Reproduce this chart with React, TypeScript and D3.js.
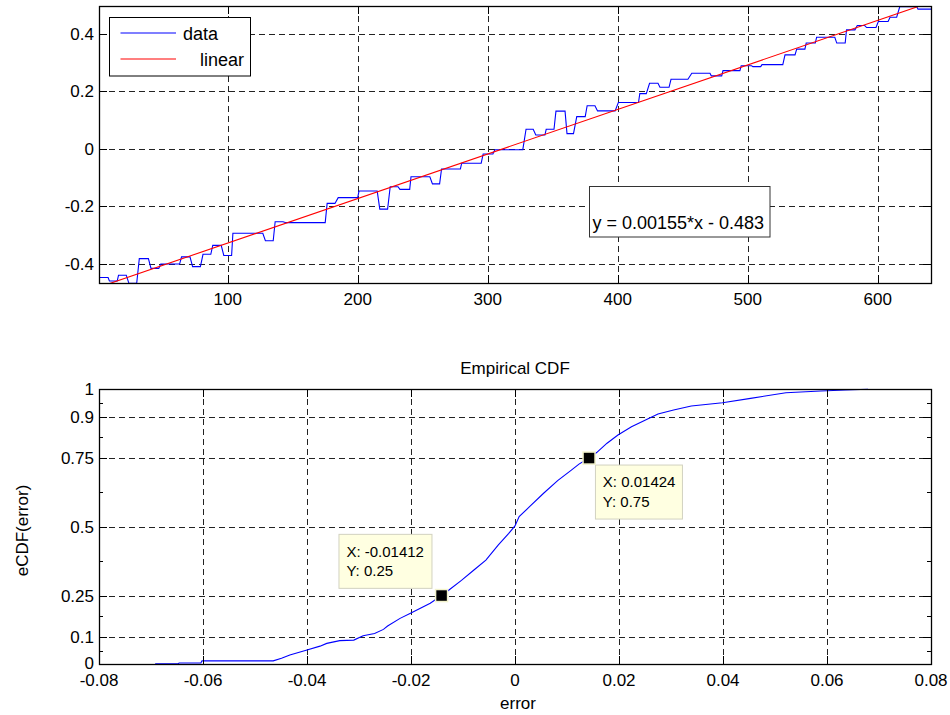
import React from "react";
import * as d3 from "d3";

// ---------- top panel data ----------
const topXDomain = [1, 641];
const topYDomain = [-0.468, 0.497];
const topXTicks = [100, 200, 300, 400, 500, 600];
const topXTickLabels = ["100", "200", "300", "400", "500", "600"];
const topYTicks = [-0.4, -0.2, 0, 0.2, 0.4];
const topYTickLabels = ["-0.4", "-0.2", "0", "0.2", "0.4"];

const dataX = [
  1, 8, 9, 15, 16, 22, 24, 30, 32, 39, 41, 47, 48.5, 63, 64.5, 71, 73, 79, 81, 87,
  88.5, 95, 97, 103, 104, 127, 129, 135, 136.5, 142.5, 145, 175, 176.5, 182.5, 185, 200,
  201, 215, 217, 223, 225, 231, 232.5, 240, 241, 255.5, 257.5, 263, 264.5, 279, 280, 295,
  296.5, 304, 305.5, 327, 329.5, 335, 337, 344, 345, 351, 352.5, 359.5, 361, 366, 368.5, 375,
  376.5, 382.5, 384.5, 398, 400.5, 416, 417, 422, 424.5, 431, 432.5, 439.5, 441, 454,
  457, 471, 472, 480, 481, 494, 495, 503, 504, 510, 511, 527, 528.7, 536.4, 537.7, 544,
  545, 552, 553, 567, 568.5, 575, 576, 582.5, 584.3, 590, 591.5, 598.7, 600.5, 608,
  609.5, 614.6, 617, 630, 631, 641,
];
const dataY = [
  -0.448, -0.448, -0.46, -0.46, -0.44, -0.44, -0.468, -0.468, -0.382, -0.382, -0.416, -0.416, -0.401, -0.401, -0.376, -0.376, -0.41, -0.41, -0.367, -0.367,
  -0.336, -0.336, -0.371, -0.371, -0.294, -0.294, -0.32, -0.32, -0.254, -0.254, -0.257, -0.257, -0.19, -0.19, -0.17, -0.17,
  -0.147, -0.147, -0.21, -0.21, -0.132, -0.132, -0.141, -0.141, -0.097, -0.097, -0.122, -0.122, -0.07, -0.07, -0.05, -0.05,
  -0.018, -0.018, -0.003, -0.003, 0.068, 0.068, 0.048, 0.048, 0.068, 0.068, 0.131, 0.131, 0.053, 0.053, 0.112, 0.112,
  0.15, 0.15, 0.132, 0.132, 0.161, 0.161, 0.192, 0.192, 0.228, 0.228, 0.214, 0.214, 0.242, 0.242,
  0.263, 0.263, 0.254, 0.254, 0.272, 0.272, 0.289, 0.289, 0.286, 0.286, 0.293, 0.293, 0.327, 0.327, 0.347, 0.347,
  0.368, 0.368, 0.388, 0.388, 0.368, 0.368, 0.414, 0.414, 0.429, 0.429, 0.422, 0.422, 0.443, 0.443,
  0.458, 0.458, 0.495, 0.495, 0.486, 0.486,
];
const fitSlope = 0.00155;
const fitIntercept = -0.483;
const fitLabel = "y = 0.00155*x - 0.483";
const legendLabels = ["data", "linear"];

// ---------- bottom panel data ----------
const cdfXDomain = [-0.08, 0.08];
const cdfYDomain = [0, 1];
const cdfXTicks = [-0.08, -0.06, -0.04, -0.02, 0, 0.02, 0.04, 0.06, 0.08];
const cdfXTickLabels = ["-0.08", "-0.06", "-0.04", "-0.02", "0", "0.02", "0.04", "0.06", "0.08"];
const cdfYTicks = [0, 0.1, 0.25, 0.5, 0.75, 0.9, 1];
const cdfYTickLabels = ["0", "0.1", "0.25", "0.5", "0.75", "0.9", "1"];
const cdfYMinor = [0.05, 0.175, 0.375, 0.625, 0.825, 0.95];

const cdfX = [
  -0.0692, -0.0648, -0.0646, -0.0604, -0.0602, -0.0465, -0.0449, -0.0433, -0.04, -0.0375,
  -0.0362, -0.0337, -0.031, -0.0292, -0.027, -0.0253, -0.0245, -0.0221, -0.0201, -0.0163,
  -0.01412, -0.0127, -0.0103, -0.0079, -0.0056, -0.0032, -0.0012, 0.0, 0.0008, 0.0028,
  0.0055, 0.0082, 0.0109, 0.0123, 0.01424, 0.0157, 0.0177, 0.0198, 0.0224, 0.0258,
  0.0275, 0.0305, 0.0339, 0.0399, 0.0453, 0.0521, 0.0588, 0.0636, 0.0679,
];
const cdfY = [
  0.0016, 0.0016, 0.0047, 0.0047, 0.0125, 0.0125, 0.022, 0.034, 0.052, 0.066,
  0.076, 0.086, 0.088, 0.104, 0.112, 0.127, 0.139, 0.167, 0.186, 0.222,
  0.25, 0.27, 0.305, 0.343, 0.379, 0.434, 0.476, 0.503, 0.537, 0.573,
  0.622, 0.668, 0.707, 0.728, 0.75, 0.77, 0.804, 0.834, 0.864, 0.8945,
  0.91, 0.925, 0.939, 0.951, 0.967, 0.9876, 0.994, 0.9975, 1.0,
];
const tipX = [-0.01412, 0.01424];
const tipY = [0.25, 0.75];
const tipLines = [
  ["X: -0.01412", "Y: 0.25"],
  ["X: 0.01424", "Y: 0.75"],
];
const cdfTitle = "Empirical CDF";
const cdfXLabel = "error";
const cdfYLabel = "eCDF(error)";

const FONT = "'Liberation Sans', Arial, Helvetica, sans-serif";
const GRID = "#222";
const DASH = "6,4";
const c = (v: number) => Math.round(v) + 0.5;

export default function App() {
  const L = 99, R = 931;
  const xT = d3.scaleLinear().domain(topXDomain).range([L, R]);
  const yT = d3.scaleLinear().domain(topYDomain).range([283.3, 6]);
  const tTop = 6, tBot = 283;
  const xB = d3.scaleLinear().domain(cdfXDomain).range([L, R]);
  const yB = d3.scaleLinear().domain(cdfYDomain).range([664.3, 389.3]);
  const bTop = 389, bBot = 664;

  const dataPts = dataX.map((x, i) => [x, dataY[i]] as [number, number]);
  const dataPath = d3.line<[number, number]>().x((d) => xT(d[0])).y((d) => yT(d[1]))(dataPts) || "";
  const fitPts: [number, number][] = topXDomain.map((x) => [x, fitSlope * x + fitIntercept]);
  const fitPath = d3.line<[number, number]>().x((d) => xT(d[0])).y((d) => yT(d[1]))(fitPts) || "";

  const cdfPts = cdfX.map((x, i) => [x, cdfY[i]] as [number, number]);
  const cdfPath = d3.line<[number, number]>().x((d) => xB(d[0])).y((d) => yB(d[1]))(cdfPts) || "";

  const tick = 8;
  const minor = 4;

  const tipW = [93, 87];
  const tipH = 54;
  const tips = tipX.map((x, i) => {
    const mx = xB(x), my = yB(tipY[i]);
    const bx = i === 0 ? mx - 9.6 - tipW[i] : mx + 6.4;
    const by = i === 0 ? my - 7.2 - tipH : my + 7;
    return { mx, my, bx, by, w: tipW[i], lines: tipLines[i] };
  });

  return (
    <svg width={950} height={715} style={{ position: "absolute", left: 0, top: 0, background: "#fff" }} fontFamily={FONT}>
      <defs>
        <clipPath id="clipTop">
          <rect x={L} y={tTop} width={R - L} height={tBot - tTop + 0.5} />
        </clipPath>
        <clipPath id="clipBot">
          <rect x={L} y={bTop - 1} width={R - L} height={bBot - bTop + 2} />
        </clipPath>
      </defs>
      <rect x={0} y={0} width={950} height={715} fill="#fff" />

      {/* ---------- TOP PANEL ---------- */}
      <g>
        {topXTicks.map((t) => (
          <line key={"tgx" + t} x1={c(xT(t))} x2={c(xT(t))} y1={tTop} y2={tBot} stroke={GRID} strokeDasharray={DASH} />
        ))}
        {topYTicks.map((t) => (
          <line key={"tgy" + t} x1={L} x2={R} y1={c(yT(t))} y2={c(yT(t))} stroke={GRID} strokeDasharray={DASH} />
        ))}
        <g clipPath="url(#clipTop)">
          <path d={dataPath} fill="none" stroke="#0000ff" strokeWidth={1.1} />
          <path d={fitPath} fill="none" stroke="#ff0000" strokeWidth={1.1} />
        </g>
        <rect x={L + 0.5} y={tTop + 0.5} width={R - L} height={tBot - tTop} fill="none" stroke="#000" strokeWidth={1.3} />
        {topXTicks.map((t) => (
          <g key={"txt" + t}>
            <line x1={c(xT(t))} x2={c(xT(t))} y1={tBot} y2={tBot - tick} stroke="#000" />
            <line x1={c(xT(t))} x2={c(xT(t))} y1={tTop} y2={tTop + tick} stroke="#000" />
          </g>
        ))}
        {topYTicks.map((t) => (
          <g key={"tyt" + t}>
            <line x1={L} x2={L + tick} y1={c(yT(t))} y2={c(yT(t))} stroke="#000" />
            <line x1={R} x2={R - tick} y1={c(yT(t))} y2={c(yT(t))} stroke="#000" />
          </g>
        ))}
        {topXTicks.map((t, i) => (
          <text key={"txl" + t} x={xT(t)} y={tBot + 21.5} fontSize={17} textAnchor="middle" fill="#000">
            {topXTickLabels[i]}
          </text>
        ))}
        {topYTicks.map((t, i) => (
          <text key={"tyl" + t} x={L - 5} y={yT(t)} dy="0.35em" fontSize={17} textAnchor="end" fill="#000">
            {topYTickLabels[i]}
          </text>
        ))}
        {/* legend */}
        <rect x={109.5} y={17.5} width={141} height={58.5} fill="#fff" stroke="#000" strokeWidth={1} />
        <line x1={120.5} x2={176} y1={33} y2={33} stroke="#0000ff" strokeWidth={1.2} />
        <line x1={120.5} x2={176} y1={59} y2={59} stroke="#ff0000" strokeWidth={1.2} />
        <text x={183} y={40} fontSize={18} fill="#000">{legendLabels[0]}</text>
        <text x={200} y={66} fontSize={18} fill="#000">{legendLabels[1]}</text>
        {/* fit equation */}
        <rect x={589.5} y={186.5} width={180.5} height={50.5} fill="#fff" stroke="#333" strokeWidth={1} />
        <text x={592.5} y={228.5} fontSize={18} fill="#000">{fitLabel}</text>
      </g>

      {/* ---------- BOTTOM PANEL ---------- */}
      <g>
        <text x={(L + R) / 2} y={374} fontSize={17} textAnchor="middle" fill="#000">{cdfTitle}</text>
        {cdfXTicks.map((t) => (
          <line key={"bgx" + t} x1={c(xB(t))} x2={c(xB(t))} y1={bTop} y2={bBot} stroke={GRID} strokeDasharray={DASH} />
        ))}
        {cdfYTicks.map((t) => (
          <line key={"bgy" + t} x1={L} x2={R} y1={c(yB(t))} y2={c(yB(t))} stroke={GRID} strokeDasharray={DASH} />
        ))}
        <g clipPath="url(#clipBot)">
          <path d={cdfPath} fill="none" stroke="#0000ff" strokeWidth={1.1} />
        </g>
        <rect x={L + 0.5} y={bTop + 0.5} width={R - L} height={bBot - bTop} fill="none" stroke="#000" strokeWidth={1.3} />
        {cdfXTicks.map((t) => (
          <g key={"bxt" + t}>
            <line x1={c(xB(t))} x2={c(xB(t))} y1={bBot} y2={bBot - tick} stroke="#000" />
            <line x1={c(xB(t))} x2={c(xB(t))} y1={bTop} y2={bTop + tick} stroke="#000" />
          </g>
        ))}
        {cdfYTicks.map((t) => (
          <g key={"byt" + t}>
            <line x1={L} x2={L + tick} y1={c(yB(t))} y2={c(yB(t))} stroke="#000" />
            <line x1={R} x2={R - tick} y1={c(yB(t))} y2={c(yB(t))} stroke="#000" />
          </g>
        ))}
        {cdfYMinor.map((t) => (
          <g key={"bym" + t}>
            <line x1={L} x2={L + minor} y1={c(yB(t))} y2={c(yB(t))} stroke="#000" />
            <line x1={R} x2={R - minor} y1={c(yB(t))} y2={c(yB(t))} stroke="#000" />
          </g>
        ))}
        {cdfXTicks.map((t, i) => (
          <text key={"bxl" + t} x={xB(t)} y={bBot + 22} fontSize={17} textAnchor="middle" fill="#000">
            {cdfXTickLabels[i]}
          </text>
        ))}
        {cdfYTicks.map((t, i) => (
          <text key={"byl" + t} x={L - 5} y={yB(t) - (t === 0 ? 1 : 0)} dy="0.35em" fontSize={17} textAnchor="end" fill="#000">
            {cdfYTickLabels[i]}
          </text>
        ))}
        <text x={(L + R) / 2 + 3} y={709} fontSize={17} textAnchor="middle" fill="#000">{cdfXLabel}</text>
        <text transform={`translate(28, ${(bTop + bBot) / 2 + 4}) rotate(-90)`} fontSize={17} textAnchor="middle" fill="#000">
          {cdfYLabel}
        </text>
        {tips.map((tp, i) => (
          <g key={"tip" + i}>
            <rect x={tp.bx} y={tp.by} width={tp.w} height={tipH} fill="#ffffe1" stroke="#d2d2c0" strokeWidth={1} />
            <text x={tp.bx + 7.4} y={tp.by + 22.4} fontSize={15} fill="#000">{tp.lines[0]}</text>
            <text x={tp.bx + 7.4} y={tp.by + 41.7} fontSize={15} fill="#000">{tp.lines[1]}</text>
            <rect x={tp.mx - 6} y={tp.my - 6} width={12} height={12} fill="#000" stroke="#f2f2cc" strokeWidth={1.5} />
          </g>
        ))}
      </g>
    </svg>
  );
}
